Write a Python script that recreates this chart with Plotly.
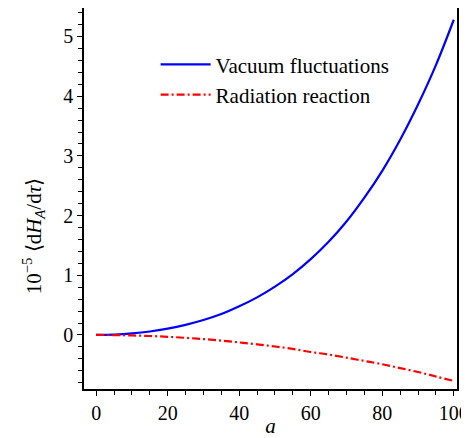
import plotly.graph_objects as go

a_vals = [0, 5, 10, 15, 20, 25, 30, 35, 40, 45, 50, 55, 60, 65, 70, 75, 80, 85, 90, 95, 100]
vacuum = [0.0, 0.007, 0.026, 0.058, 0.106, 0.17, 0.25, 0.35, 0.48, 0.63, 0.81, 1.02,
          1.27, 1.56, 1.90, 2.30, 2.75, 3.27, 3.86, 4.52, 5.28]
radiation = [0.0, -0.002, -0.008, -0.017, -0.031, -0.048, -0.069, -0.094, -0.125, -0.157,
             -0.193, -0.233, -0.285, -0.328, -0.38, -0.435, -0.49, -0.555, -0.62, -0.695, -0.77]

x_ticks = [0, 20, 40, 60, 80, 100]
y_ticks = [0, 1, 2, 3, 4, 5]

font = "Liberation Serif, Times New Roman, serif"

fig = go.Figure()
fig.add_trace(go.Scatter(x=a_vals, y=vacuum, mode="lines", name="Vacuum fluctuations",
                         line=dict(color="#0000ff", width=2.2, shape="spline")))
fig.add_trace(go.Scatter(x=a_vals, y=radiation, mode="lines", name="Radiation reaction",
                         line=dict(color="#ff0000", width=2.2, dash="8px,3px,2px,3px", shape="spline")))

axis_common = dict(showline=True, linecolor="black", linewidth=1.5, mirror=True,
                   showgrid=False, zeroline=False, ticks="outside", ticklen=5,
                   tickwidth=1, tickcolor="black",
                   tickfont=dict(family=font, size=20, color="black"))

fig.update_xaxes(range=[-3.4, 100.9], tickvals=x_ticks,
                 minor=dict(dtick=5, tick0=0, ticks="outside", ticklen=4, tickcolor="black"),
                 title=dict(text="<i>a</i>", font=dict(family=font, size=21, color="black"), standoff=0),
                 **axis_common)
fig.update_yaxes(range=[-0.905, 5.477], tickvals=y_ticks,
                 minor=dict(dtick=0.2, tick0=0, ticks="outside", ticklen=4, tickcolor="black"),
                 **axis_common)

fig.add_annotation(text="10<sup>−5</sup> ⟨d<i>H</i><sub><i>A</i></sub>/d<i>τ</i>⟩",
                   xref="paper", yref="paper", x=-0.135, y=0.40, textangle=-90,
                   xanchor="center", yanchor="middle", showarrow=False,
                   font=dict(family=font, size=21, color="black"))

fig.update_layout(
    width=461, height=430,
    margin=dict(l=76, r=12, t=0, b=49, pad=0, autoexpand=False),
    plot_bgcolor="white", paper_bgcolor="white",
    showlegend=True,
    legend=dict(x=0.192, y=0.905, xanchor="left", yanchor="top",
                bgcolor="rgba(0,0,0,0)", borderwidth=0,
                font=dict(family=font, size=21, color="black"),
                itemwidth=50, tracegroupgap=0),
)

fig.write_html("out.html")
